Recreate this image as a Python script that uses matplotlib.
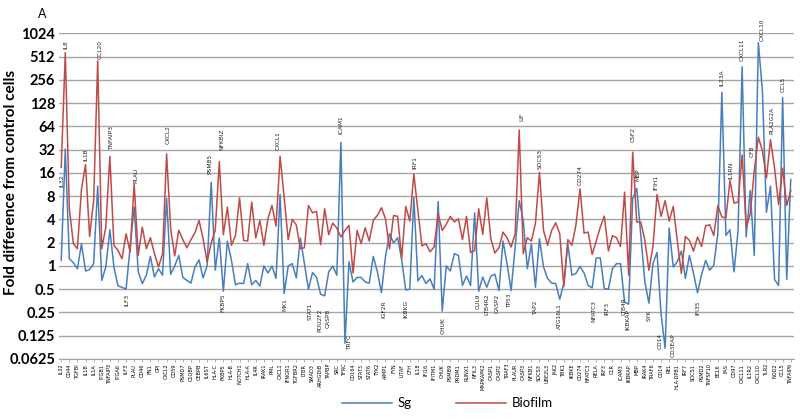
import numpy as np
import matplotlib
matplotlib.use("Agg")
import matplotlib.pyplot as plt

plt.rcParams['font.family'] = ['Lato', 'DejaVu Sans']

# gene names shown on the category axis (every second point)
tick_genes = ["IL32", "CD44", "TGFBI", "IL1B", "IL1A", "ITGB1", "TNFAIP3", "ITGA6", "ILF3", "PLAU",
              "CD46", "FN1", "GPI", "CXCL2", "CD59", "PSMD7", "C1QBP", "CEBPB", "IL6ST", "HLA-C",
              "FKBP5", "HLA-B", "NOTCH1", "HLA-A", "IL4R", "IRAK1", "PML", "CXCL1", "IFNGR1", "TGFBR2",
              "LTBR", "SMAD3", "ARHGDIB", "TAPBP", "SRC", "TFRC", "CD164", "STAT3", "STAT6", "TYK2",
              "AIMP1", "FYN", "LITAF", "CFH", "IL18", "IFI16", "IFITM1", "CHUK", "PSMB9", "PRDM1",
              "RUNX1", "NFIL3", "MAPKAPK2", "CASP1", "CASP2", "TRAF3", "PLAUR", "CASP3", "NFKB1", "SOCS3",
              "UBE2L3", "JAK2", "TBK1", "IKBKE", "CD274", "NFATC3", "RELA", "IRF3", "C1R", "ICAM3",
              "IKBKAP", "MBP", "IRAK4", "TRAF6", "CD14", "REL", "HLA-DPB1", "IRF7", "SOCS1", "PSMD2",
              "TNFSF10", "BCL6", "FAS", "CD97", "CXCL11", "IL1R2", "CXCL10", "TLR2", "NOD2", "CCL5",
              "TNFAIP6"]

# fold change vs control, one value per gene
sg = [1.18, 32.6, 1.24, 1.1, 0.92, 1.94, 0.86, 0.9, 1.07, 10.8,
      0.65, 0.97, 2.94, 0.97, 0.55, 0.53, 0.5, 1.76, 5.78, 0.84,
      0.59, 0.76, 1.33, 0.72, 0.92, 0.76, 7.5, 0.78, 1.0, 1.37,
      0.71, 0.65, 0.6, 0.97, 1.2, 0.7, 1.0, 12.1, 0.88, 2.3,
      0.47, 2.1, 1.18, 0.57, 0.6, 0.59, 1.07, 0.57, 0.65, 0.55,
      1.0, 0.81, 1.0, 0.69, 8.4, 0.44, 1.0, 1.07, 0.7, 2.3,
      1.07, 0.5, 0.82, 0.71, 0.43, 0.41, 0.84, 1.0, 0.76, 39.8,
      0.10, 1.13, 0.62, 0.71, 0.71, 0.62, 0.6, 1.33, 0.84, 0.45,
      1.31, 2.61, 1.98, 2.32, 1.21, 0.49, 0.5, 7.8, 0.64, 0.75,
      0.59, 0.68, 0.5, 6.8, 0.26, 1.0, 0.86, 1.44, 1.37, 0.56,
      0.74, 0.56, 4.88, 0.47, 0.72, 0.53, 0.74, 0.78, 0.48, 2.1,
      1.07, 0.48, 1.76, 7.0, 3.89, 0.92, 1.94, 0.53, 2.25, 0.97,
      0.69, 0.6, 0.59, 0.37, 0.6, 1.9, 0.76, 0.8, 0.99, 0.81,
      0.56, 0.52, 1.27, 1.27, 0.51, 0.5, 0.92, 1.07, 1.07, 0.34,
      0.32, 7.4, 10.1, 2.48, 0.62, 0.33, 1.07, 1.5, 0.24, 0.086,
      3.09, 0.97, 1.13, 1.56, 0.69, 1.37, 0.8, 0.45, 0.78, 1.18,
      0.88, 1.02, 2.61, 176, 2.48, 2.94, 0.84, 2.88, 377, 2.37,
      9.47, 1.37, 776, 185, 4.97, 10.8, 0.67, 0.56, 151, 0.67,
      13.1]

biofilm = [18.9, 576, 5.5, 1.94, 1.67, 9.95, 20.5, 2.41, 7.0, 450,
           1.67, 3.18, 26.2, 1.85, 1.59, 1.24, 2.61, 1.52, 11.5, 1.37,
           3.18, 1.67, 2.32, 1.44, 0.97, 1.44, 28.1, 3.0, 1.35, 2.9,
           2.19, 1.72, 2.19, 2.69, 3.89, 2.25, 1.13, 1.98, 2.9, 22.4,
           2.54, 5.78, 1.85, 2.48, 7.6, 2.14, 2.1, 6.7, 2.3, 3.89,
           1.85, 4.08, 6.06, 3.28, 26.2, 7.77, 2.19, 4.0, 3.4, 1.67,
           1.72, 6.06, 4.88, 5.07, 1.88, 5.5, 2.54, 3.58, 3.09, 2.37,
           2.88, 3.34, 0.81, 2.88, 1.94, 3.12, 2.1, 3.89, 4.5, 5.66,
           4.08, 1.67, 4.5, 4.38, 1.24, 5.9, 3.8, 15.5, 5.2, 1.81,
           1.94, 1.52, 1.76, 4.73, 2.88, 3.45, 4.38, 3.7, 4.08, 2.19,
           4.38, 1.49, 1.59, 5.5, 2.56, 7.6, 2.25, 1.47, 1.72, 2.74,
           2.32, 1.76, 2.61, 57.4, 1.44, 2.32, 2.1, 3.58, 16.3, 2.88,
           1.85, 2.88, 3.62, 2.61, 0.54, 2.19, 1.85, 3.41, 9.95, 2.66,
           2.74, 1.41, 2.1, 3.18, 4.42, 1.56, 2.46, 2.32, 1.79, 9.0,
           0.76, 29.6, 3.7, 3.7, 2.14, 0.88, 1.79, 8.4, 4.38, 7.0,
           3.8, 5.9, 2.14, 0.8, 2.41, 2.14, 1.56, 2.37, 1.79, 3.31,
           3.41, 2.48, 6.06, 4.29, 4.2, 12.7, 6.5, 6.7, 27.3, 3.18,
           4.73, 17.1, 46.2, 31.1, 13.8, 43.1, 18.4, 6.25, 18.4, 6.06,
           9.47]

# highlighted genes: name, point index
ann_names = ["IL32", "IL8", "IL1B", "CCL20", "TNFAIP3", "PLAU", "CXCL2", "PSMB5", "NFKBIZ", "CXCL1",
             "ICAM1", "IRF1", "LIF", "SOCS3", "CD274", "CSF2", "MBP", "IFIH1", "IL23A", "IL1RN",
             "CXCL11", "CFB", "CXCL10", "PLA2G2A", "CCL5",
             "ILF3", "FKBP5", "MX1", "STAT1", "POU2F2", "CASP8", "TRFC", "IGF2R", "IKBKG", "CHUK",
             "CUL9", "LTB4R2", "CASP2", "TP53", "TAP2", "ATG16L1", "NFATC3", "IRF3", "LTB4R", "IKBKAP",
             "SYK", "CD14", "CD3EAP", "IFI35"]
ann_idx = [0, 1, 6, 9, 12, 18, 26, 37, 39, 54,
           69, 87, 113, 118, 128, 141, 142, 147, 163, 165,
           168, 171, 172, 175, 178,
           16, 40, 55, 61, 64, 65, 70, 79, 85, 94,
           103, 105, 108, 111, 117, 123, 131, 135, 139, 140,
           145, 148, 149, 157]

# label placement (x offset in points, y in data units, above/below)
ann_dx = [0.2, 0.2, 0.2, 0.6, 0.3, 0.3, 0.3, -0.3, 0.7, -0.4,
          0.0, 0.3, 0.6, 0.1, 0.0, 0.1, 0.3, -0.3, 0.0, 0.3,
          0.0, -0.5, 1.0, 0.4, 0.1,
          0.3, 0.0, 0.2, 0.4, -0.1, 0.8, 1.2, 0.7, 0.0, 0.3,
          -0.1, 0.1, -0.4, -0.3, 0.1, 0.0, 0.4, -0.3, -0.2, -0.2,
          0.0, -0.3, 2.0, 0.0]
ann_y = [10.5, 650, 23, 470, 32, 12, 38, 15.5, 32, 32,
         51, 18, 76, 18, 11, 40, 12.7, 9.5, 214, 13.4,
         450, 25.5, 814, 51, 176,
         0.44, 0.44, 0.38, 0.34, 0.28, 0.28, 0.13, 0.36, 0.36, 0.22,
         0.44, 0.44, 0.44, 0.44, 0.36, 0.33, 0.36, 0.34, 0.4, 0.28,
         0.27, 0.134, 0.134, 0.36]
ann_above = [True] * 25 + [False] * 24

BLUE = '#4a7ebb'
RED = '#be4b48'

fig = plt.figure(figsize=(8.0, 4.19), dpi=100)
ax = fig.add_axes([0.074, 0.1432, 0.918, 0.7773])

x = np.arange(len(sg))
ax.plot(x, sg, color=BLUE, lw=1.1, label='Sg')
ax.plot(x, biofilm, color=RED, lw=1.1, label='Biofilm')

ax.set_yscale('log', base=2)
yt = [2.0 ** k for k in range(-4, 11)]
ax.set_yticks(yt)
ax.set_yticklabels(['0.0625', '0.125', '0.25', '0.5', '1', '2', '4', '8', '16', '32',
                    '64', '128', '256', '512', '1024'], fontweight='bold', fontsize=10.5)
ax.minorticks_off()
ax.set_ylim(0.0625, 1024)
ax.set_xlim(-0.5, len(sg) - 0.3)
ax.yaxis.grid(True, color='#a6a6a6', lw=1.0)
ax.set_axisbelow(True)
ax.tick_params(axis='y', length=0, pad=3)

ax.set_xticks(x[::2])
ax.set_xticklabels(tick_genes, rotation=90, fontsize=3.6, family='DejaVu Sans')
ax.tick_params(axis='x', length=2, width=0.6, color='#a6a6a6', pad=1.5)

for s in ['top', 'right', 'left']:
    ax.spines[s].set_visible(False)
ax.spines['bottom'].set_color('#a6a6a6')

ax.set_ylabel('Fold difference from control cells', fontsize=11, fontweight='bold')
ax.yaxis.set_label_coords(-0.056, 0.543)

for name, i, dx, yy, up in zip(ann_names, ann_idx, ann_dx, ann_y, ann_above):
    ax.text(i + dx, yy, name, rotation=90, fontsize=4.2, family='DejaVu Sans',
            ha='center', va='bottom' if up else 'top', color='#222222')

fig.text(0.047, 0.98, 'A', fontsize=9, va='top')

fig.legend(loc='lower center', bbox_to_anchor=(0.559, -0.005), ncol=2, frameon=False,
           handlelength=3.8, handletextpad=0.4, fontsize=9.5, columnspacing=3.4)

fig.savefig('out.png', dpi=100)
